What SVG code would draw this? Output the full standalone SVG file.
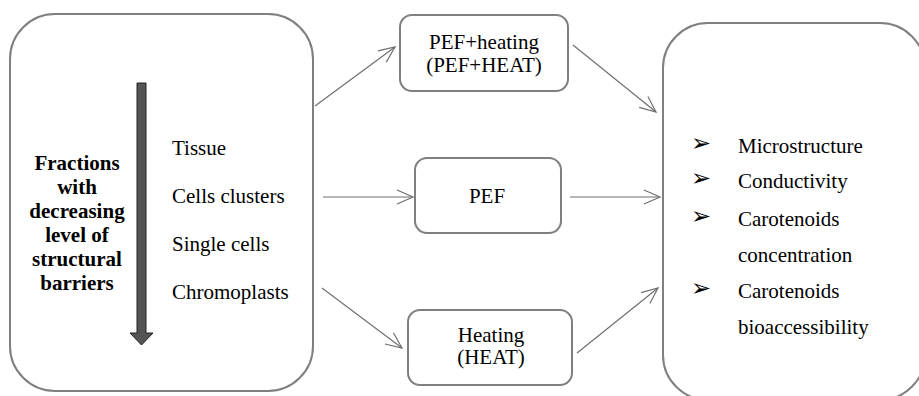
<svg xmlns="http://www.w3.org/2000/svg" width="919" height="396" viewBox="0 0 919 396">
<defs>
<style>
.box{fill:#fff;stroke:#7f7f7f;stroke-width:2}
.t{font-family:"Liberation Serif","Times New Roman",serif;font-size:21px;fill:#000}
.b{font-family:"Liberation Serif","Times New Roman",serif;font-size:21px;font-weight:bold;fill:#000;text-anchor:middle}
.c{text-anchor:middle}
.con{stroke:#6f6f6f;stroke-width:1.2;fill:none;marker-end:url(#ah)}
.bul{font-family:"DejaVu Sans",sans-serif;font-size:24px;fill:#000}
</style>
<marker id="ah" markerUnits="userSpaceOnUse" markerWidth="20" markerHeight="20" viewBox="-18 -10 20 20" refX="0" refY="0" orient="auto">
<path d="M-16,-7 L0,0 L-16,7" fill="none" stroke="#6f6f6f" stroke-width="1.2"/>
</marker>
</defs>
<g id="fractions">
<rect class="box" x="10" y="14" width="303" height="377" rx="45" ry="45"/>
<polygon points="137,83 146,83 146,333 153,333 141.5,345 130,333 137,333" fill="#545454" stroke="#222" stroke-width="1"/>
<text class="b" x="77" y="170">Fractions</text>
<text class="b" x="77" y="194">with</text>
<text class="b" x="77" y="218">decreasing</text>
<text class="b" x="77" y="242">level of</text>
<text class="b" x="77" y="266">structural</text>
<text class="b" x="77" y="290">barriers</text>
<text class="t" x="172" y="155">Tissue</text>
<text class="t" x="172" y="203">Cells clusters</text>
<text class="t" x="172" y="251">Single cells</text>
<text class="t" x="172" y="299">Chromoplasts</text>
</g>
<g id="pefheat">
<rect class="box" x="400" y="15" width="168" height="76" rx="12" ry="12"/>
<text class="t c" x="484" y="49">PEF+heating</text>
<text class="t c" x="484" y="72">(PEF+HEAT)</text>
</g>
<g id="pef">
<rect class="box" x="415" y="158" width="146" height="75" rx="12" ry="12"/>
<text class="t c" x="487" y="203">PEF</text>
</g>
<g id="heat">
<rect class="box" x="408" y="310" width="164" height="75" rx="12" ry="12"/>
<text class="t c" x="491" y="342">Heating</text>
<text class="t c" x="491" y="364">(HEAT)</text>
</g>
<g id="outcomes">
<rect class="box" x="663" y="23" width="262" height="377" rx="45" ry="45"/>
<text class="bul" x="691" y="151">➢</text>
<text class="bul" x="691" y="186">➢</text>
<text class="bul" x="691" y="224">➢</text>
<text class="bul" x="691" y="296">➢</text>
<text class="t" x="738" y="153">Microstructure</text>
<text class="t" x="738" y="188">Conductivity</text>
<text class="t" x="738" y="226">Carotenoids</text>
<text class="t" x="738" y="262">concentration</text>
<text class="t" x="738" y="298">Carotenoids</text>
<text class="t" x="738" y="334">bioaccessibility</text>
</g>
<g id="connectors">
<line class="con" x1="315" y1="106" x2="395" y2="47"/>
<line class="con" x1="323" y1="197" x2="413" y2="197"/>
<line class="con" x1="322" y1="288" x2="402" y2="348"/>
<line class="con" x1="573" y1="45" x2="656" y2="112"/>
<line class="con" x1="570" y1="197" x2="660" y2="197"/>
<line class="con" x1="577" y1="353" x2="658" y2="288"/>
</g>
</svg>
